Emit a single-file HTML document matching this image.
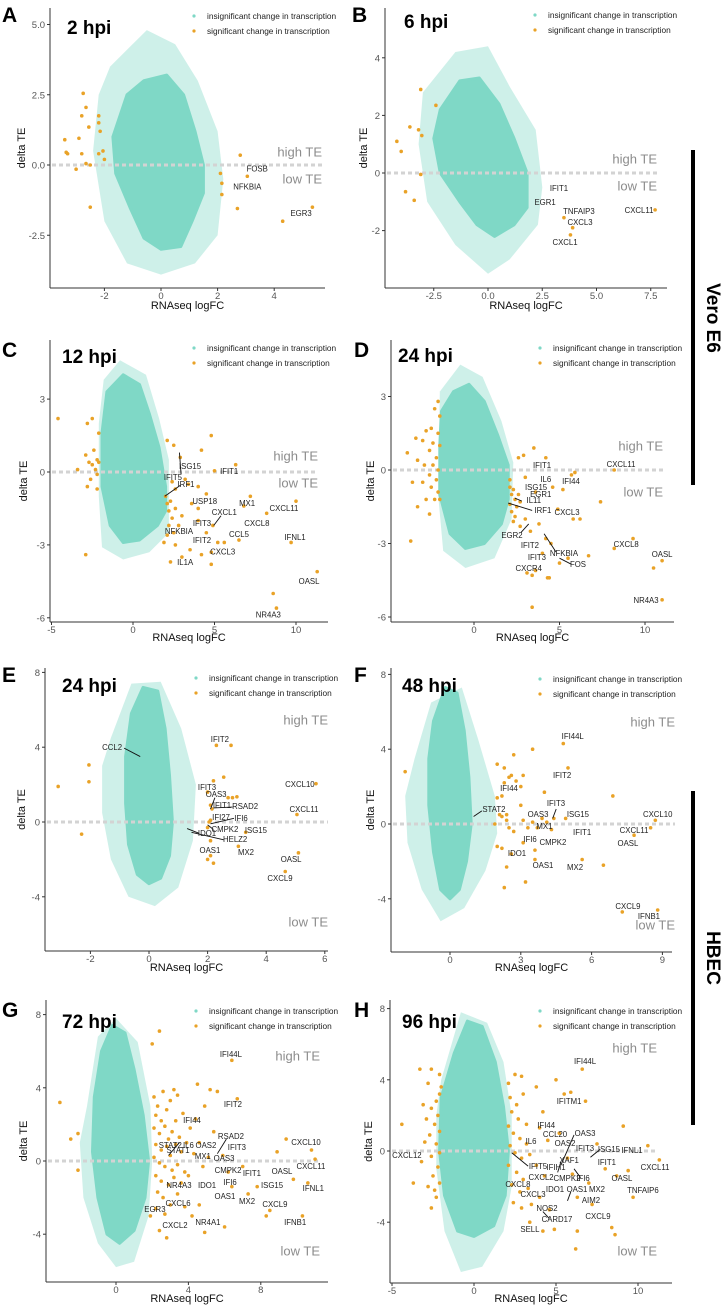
<!DOCTYPE html>
<html><head><meta charset="utf-8"><style>
html,body{margin:0;padding:0;background:#fff;}
svg{display:block;font-family:"Liberation Sans",Arial,sans-serif;}
</style></head><body>
<svg id="fig" width="724" height="1311" viewBox="0 0 724 1311" xmlns="http://www.w3.org/2000/svg">
<rect x="0" y="0" width="724" height="1311" fill="#fff"/>
<g>
<line x1="693" y1="150" x2="693" y2="485" stroke="#000" stroke-width="4"/>
<text x="712" y="318" font-size="19" font-weight="bold" text-anchor="middle" dominant-baseline="middle" transform="rotate(90 712 318)">Vero E6</text>
</g>
<g>
<line x1="693" y1="791" x2="693" y2="1125" stroke="#000" stroke-width="4"/>
<text x="712" y="958" font-size="19" font-weight="bold" text-anchor="middle" dominant-baseline="middle" transform="rotate(90 712 958)">HBEC</text>
</g>
</svg>
<script>
// ---------- data ----------
const sigA = [[-3.4,0.9],[-3.3,0.4],[-3.35,0.45],[-2.9,0.95],[-2.75,2.55],[-2.65,2.05],[-2.8,1.75],[-2.2,1.75],[-2.2,1.5],[-2.15,1.2],[-2.55,1.35],[-2.8,0.4],[-2.65,0.05],[-2.5,0],[-3.0,-0.15],[-2.2,0.4],[-2.05,0.5],[-2.5,-1.5],[-2.0,0.2],[2.8,0.35],[3.05,-0.4],[2.1,-0.3],[2.15,-0.65],[2.15,-1.05],[2.7,-1.55],[4.3,-2.0],[5.35,-1.5]];
const labA = [["FOSB",3.4,-0.15],["NFKBIA",3.05,-0.8],["EGR3",4.95,-1.75]];

const sigB = [[-4.2,1.1],[-4.0,0.75],[-3.6,1.6],[-3.2,1.5],[-3.05,1.3],[-3.1,2.9],[-2.4,2.35],[-3.1,-0.05],[-3.8,-0.65],[-3.4,-0.95],[3.5,-1.55],[3.9,-1.9],[3.8,-2.15],[7.7,-1.28]];
const labB = [["IFIT1",3.27,-0.56],["EGR1",2.63,-1.04],["TNFAIP3",4.19,-1.35],["CXCL3",4.24,-1.74],["CXCL1",3.55,-2.43],["CXCL11",6.96,-1.32]];

const sigC = [[-4.6,2.2],[-2.9,0.7],[-2.7,0.4],[-2.5,0.3],[-2.3,0.1],[-2.2,-0.1],[-2.6,-0.3],[-2.2,0.5],[-2.4,0.9],[-2.1,1.6],[-2.8,2],[-2.5,2.2],[-2.2,-0.7],[-2.1,0.4],[-3.4,0.1],[-2.9,-3.4],[-2.8,-0.6],[2.0,-1],[2.1,-1.3],[2.2,-1.6],[2.3,-1.2],[2.4,-1.9],[2.2,-2.2],[2.5,-2.5],[2.1,-2.6],[2.6,-1.5],[2.8,-2.2],[3,-1.8],[2.6,-0.7],[2.4,-0.4],[2.9,0.6],[3.2,-0.3],[3.4,-0.5],[4,-0.6],[4.2,0.9],[4.8,1.5],[2.5,1.1],[2.1,1.3],[2.6,-3],[3,-3.5],[3.5,-3.2],[4,-2],[4.2,-3.4],[4.5,-2.5],[4.8,-3.3],[4.8,-3.8],[5.2,-2.9],[5.6,-2.9],[4.9,-2.2],[5,0.05],[6.3,0.3],[6.5,-2.8],[6.8,-1.4],[7.2,-1.0],[8.2,-1.7],[10,-1.2],[9.7,-2.9],[11.3,-4.1],[8.6,-5.0],[8.8,-5.6],[2.3,-3.7],[1.9,-2.9],[3.6,-1.3],[4.0,-1.5],[4.5,-0.9]];
const labC = [["ISG15",3.5,0.2],["IFIT5",2.45,-0.25],["IRF1",3.25,-0.53],["IFIT1",5.9,0],["USP18",4.4,-1.23],["MX1",7.0,-1.32],["CXCL11",9.26,-1.52],["CXCL1",5.6,-1.69],["IFIT3",4.23,-2.14],["CXCL8",7.6,-2.14],["NFKBIA",2.82,-2.47],["CCL5",6.5,-2.6],["IFIT2",4.23,-2.84],["IFNL1",9.94,-2.72],["CXCL3",5.5,-3.3],["IL1A",3.2,-3.74],["OASL",10.8,-4.53],["NR4A3",8.3,-5.9]];
const leadC = [[2.95,-0.1,2.85,0.8],[2.9,-0.55,1.95,-1.0],[4.95,-2.2,5.4,-1.8]];

const sigD = [[-2.1,2.8],[-2.3,2.5],[-2.0,2.2],[-2.5,1.7],[-2.1,1.5],[-2.8,1.6],[-3.0,1.2],[-2.4,1.1],[-2.0,1.0],[-2.6,0.8],[-2.2,0.5],[-3.3,0.4],[-2.9,0.2],[-2.4,0.2],[-2.1,0],[-2.6,-0.2],[-2.2,-0.4],[-3.0,-0.5],[-2.5,-0.7],[-2.1,-0.9],[-2.3,-1.2],[-2.8,-1.2],[-3.4,1.3],[-3.6,-0.5],[-3.9,0.7],[-3.7,-2.9],[-3.3,-1.5],[-2.6,-1.8],[-2.0,-1.2],[2.1,-0.7],[2.3,-0.8],[2.2,-1.0],[2.4,-1.2],[2.1,-1.4],[2.5,-1.5],[2.2,-1.7],[2.4,-1.9],[2.6,-1.0],[2.7,-1.3],[2.1,-0.4],[2.6,0.5],[2.9,0.6],[3.5,0.9],[2.3,-2.1],[2.7,-2.3],[3.0,-2.0],[3.3,-2.5],[3.8,-2.2],[4.2,-2.8],[4.5,-3.0],[4.0,-3.4],[4.4,-4.4],[3.6,-4.1],[3.1,-4.2],[3.4,-4.3],[5.0,-3.8],[5.5,-3.6],[5.8,-2.0],[6.2,-2.0],[4.9,-1.6],[4.2,0.5],[5.7,-0.2],[5.9,-0.1],[3.0,-0.3],[3.6,-0.9],[4.6,-0.7],[5.2,-0.8],[6.7,-3.5],[7.4,-1.3],[8.2,0.0],[8.2,-3.2],[9.3,-2.8],[10.5,-4.0],[11,-3.7],[11,-5.3],[3.4,-5.6],[4.3,-4.4]];
const labD = [["IFIT1",3.98,0.16],["CXCL11",8.6,0.2],["IL6",4.2,-0.41],["IFI44",5.67,-0.49],["ISG15",3.63,-0.73],["EGR1",3.9,-1.02],["IL11",3.5,-1.27],["IRF1",4.03,-1.67],["CXCL3",5.44,-1.76],["EGR2",2.22,-2.69],["CXCL8",8.9,-3.06],["IFIT2",3.27,-3.1],["NFKBIA",5.26,-3.43],["OASL",11,-3.47],["IFIT3",3.68,-3.59],["FOS",6.08,-3.88],["CXCR4",3.2,-4.04],["NR4A3",10.06,-5.35]];
const leadD = [[2.4,-1.15,2.8,-1.27],[2.0,-1.35,3.4,-1.65],[2.75,-2.55,3.2,-2.2],[4.1,-2.6,4.8,-3.35],[5.0,-3.6,5.7,-3.85]];

const sigE = [[-3.1,1.9],[-2.05,3.05],[-2.05,2.15],[-2.3,-0.65],[2.3,4.1],[2.8,4.1],[2.2,2.2],[2.55,2.4],[2.0,1.6],[2.1,0.9],[2.15,0.7],[2.7,1.3],[2.85,1.3],[3.0,1.35],[2.1,0.1],[2.0,-0.3],[2.1,-1.0],[3.05,-1.3],[3.3,-0.55],[2.1,-1.8],[2.2,-2.2],[2.0,-2.0],[5.05,0.4],[5.7,2.05],[5.1,-1.65],[4.65,-2.65],[2.05,0.0]];
const labE = [["IFIT2",2.42,4.39],["CCL2",-1.26,3.96],["CXCL10",5.15,1.98],["IFIT3",1.98,1.82],["OAS3",2.29,1.44],["IFIT1",2.49,0.86],["RSAD2",3.28,0.8],["CXCL11",5.29,0.64],["IFI27",2.46,0.21],["IFI6",3.14,0.16],["CMPK2",2.59,-0.43],["ISG15",3.65,-0.48],["IDO1",1.98,-0.64],["HELZ2",2.94,-0.96],["OAS1",2.08,-1.55],["MX2",3.31,-1.66],["OASL",4.85,-2.03],["CXCL9",4.47,-3.05]];
const leadE = [[-0.85,3.95,-0.3,3.5],[2.2,0.75,2.85,0.8],[2.1,-0.1,2.9,0.2],[2.0,-0.15,2.2,-0.4],[1.3,-0.35,1.7,-0.6],[1.45,-0.55,2.55,-0.95],[2.1,0.7,2.25,1.3]];

const sigF = [[-1.9,2.8],[2.0,1.4],[2.2,1.5],[2.3,2.2],[2.5,2.5],[2.6,2.6],[2.8,2.3],[3.0,2.0],[3.1,2.6],[2.3,3.0],[2.7,3.7],[2.0,3.2],[3.5,4.0],[2.1,0.5],[2.2,0.4],[2.4,0.2],[2.5,-0.2],[2.7,-0.4],[3.0,1.0],[3.1,0.2],[3.3,-0.2],[3.5,0.1],[3.7,-0.2],[3.9,0.3],[4.1,0.1],[4.3,-0.3],[2.2,-1.3],[2.6,-1.6],[2.4,-2.3],[3.1,-1.0],[3.6,-1.4],[3.6,-1.9],[2.3,-3.4],[3.2,-3.1],[4.0,1.7],[4.4,0.3],[4.9,0.3],[5.0,3.0],[4.8,4.3],[5.6,-1.9],[6.5,-2.2],[6.9,1.5],[7.8,-0.6],[8.5,-0.2],[8.7,0.2],[7.3,-4.7],[8.8,-4.6],[2.0,-1.2],[2.4,0.5],[1.9,0.0]];
const labF = [["IFI44L",5.2,4.65],["IFIT2",4.75,2.57],["IFI44",2.5,1.87],["IFIT3",4.49,1.07],["STAT2",1.86,0.75],["OAS3",3.73,0.48],["ISG15",5.42,0.48],["CXCL10",8.8,0.48],["MX1",4.0,-0.16],["CXCL11",7.8,-0.37],["IFIT1",5.6,-0.48],["IFI6",3.39,-0.86],["CMPK2",4.36,-1.02],["OASL",7.54,-1.07],["IDO1",2.84,-1.6],["OAS1",3.94,-2.25],["MX2",5.3,-2.35],["CXCL9",7.54,-4.44],["IFNB1",8.43,-4.97]];
const leadF = [[1.0,0.4,1.35,0.7],[4.35,0.3,4.5,0.8]];

const sigG = [[-3.1,3.2],[-2.5,1.2],[-2.1,1.5],[-2.1,-0.5],[2.1,3.5],[2.3,3.0],[2.6,3.8],[2.2,2.5],[2.5,2.2],[2.8,2.8],[3.0,3.3],[3.2,3.9],[3.4,3.6],[2.1,1.8],[2.4,1.5],[2.7,1.9],[2.9,1.2],[3.1,1.6],[3.3,2.2],[3.5,1.3],[3.7,2.6],[2.2,0.9],[2.5,0.6],[2.8,0.8],[3.0,0.3],[3.3,0.9],[3.6,0.5],[3.9,1.0],[2.1,0.2],[2.4,-0.1],[2.7,-0.3],[3.1,-0.5],[3.4,-0.2],[3.8,-0.6],[2.2,-0.8],[2.5,-1.1],[2.9,-1.3],[3.2,-0.9],[3.6,-1.2],[4.0,-0.8],[2.3,-1.7],[2.6,-2.0],[3.0,-2.4],[3.4,-1.8],[3.8,-2.5],[2.2,-2.6],[2.7,-2.9],[2.4,-3.8],[2.8,-4.2],[4.2,-3.0],[4.6,-2.4],[4.9,-3.9],[4.1,1.8],[4.4,2.3],[4.6,1.0],[4.3,0.4],[4.8,-0.3],[5.1,0.2],[4.5,4.2],[5.2,3.9],[5.6,3.8],[4.9,3.0],[5.4,1.6],[5.9,0.3],[6.2,-0.6],[6.4,-1.4],[6.0,-3.6],[6.7,3.4],[7.0,-0.3],[7.3,-1.8],[7.8,-1.4],[8.3,-3.0],[8.5,-2.7],[8.9,0.5],[9.4,1.2],[9.8,-1.0],[10.3,-3.0],[10.8,0.6],[11.0,0.1],[10.6,-1.2],[6.4,5.5],[2.4,7.1],[2.0,6.4],[1.9,-3]];
const labG = [["IFI44L",6.35,5.8],["IFIT2",6.46,3.06],["IFI44",4.2,2.19],["RSAD2",6.35,1.31],["CXCL10",10.5,0.98],["STAT2",3.0,0.82],["IL6",4.0,0.82],["OAS2",4.97,0.82],["IFIT3",6.68,0.71],["STAT1",3.43,0.55],["MX1",4.8,0.22],["OAS3",5.97,0.11],["CXCL11",10.77,-0.33],["CMPK2",6.19,-0.55],["IFIT1",7.51,-0.71],["OASL",9.17,-0.6],["NR4A3",3.48,-1.37],["IDO1",5.03,-1.37],["IFI6",6.3,-1.2],["ISG15",8.62,-1.37],["IFNL1",10.9,-1.53],["OAS1",6.02,-1.97],["MX2",7.24,-2.24],["CXCL6",3.43,-2.35],["CXCL9",8.78,-2.4],["EGR3",2.15,-2.68],["NR4A1",5.08,-3.39],["CXCL2",3.26,-3.55],["IFNB1",9.9,-3.39]];
const leadG = [[2.9,0.3,3.5,1.0],[5.6,0.4,6.1,1.2]];

const sigH = [[-2.1,4.3],[-2.6,4.6],[-3.3,4.6],[-2.8,3.8],[-2.1,3.2],[-2.3,2.8],[-2.6,2.4],[-2.2,2.0],[-2.9,1.8],[-2.4,1.5],[-2.1,1.1],[-2.7,0.9],[-3.0,0.5],[-2.3,0.4],[-2.1,-0.1],[-2.6,-0.3],[-3.2,-0.6],[-2.2,-0.9],[-2.5,-1.4],[-2.1,-1.8],[-2.8,-2.0],[-2.3,-2.6],[-2.6,-3.2],[-4.4,1.5],[-3.7,-1.8],[-3.1,2.6],[-2.4,-2.2],[-2.0,3.6],[2.1,3.8],[2.5,4.3],[2.9,4.2],[2.2,3.0],[2.6,2.6],[3.0,3.2],[2.3,2.2],[2.7,1.8],[3.2,1.5],[2.1,1.4],[2.4,1.0],[2.8,0.7],[3.2,0.4],[2.2,0.3],[2.5,-0.1],[2.9,-0.4],[3.4,-0.2],[2.1,-0.8],[2.6,-1.2],[3.0,-1.6],[2.3,-1.9],[2.8,-2.3],[3.3,-2.1],[2.4,-2.9],[2.9,-3.2],[3.5,-3.0],[3.8,3.6],[4.2,2.2],[4.0,1.3],[4.5,0.6],[3.8,-0.8],[4.3,-1.4],[4.0,-2.6],[4.6,-3.3],[4.9,-4.4],[4.2,-4.5],[5.0,4.0],[5.5,3.2],[5.9,3.3],[5.2,1.0],[5.7,-0.4],[6.0,-1.3],[6.3,-2.6],[6.3,-4.5],[6.2,-5.5],[6.8,2.8],[6.6,4.6],[7.0,-1.8],[7.2,-3.0],[7.5,0.4],[8.0,-1.0],[8.7,-1.4],[9.1,1.4],[9.4,-1.1],[10.6,0.3],[11.3,-0.5],[9.7,-2.6],[8.4,-4.3],[8.6,-4.7],[3.4,-4.0]];
const labH = [["IFI44L",6.77,5.0],["IFITM1",5.8,2.75],["IFI44",4.4,1.4],["CCL20",4.94,0.9],["OAS3",6.77,0.96],["OAS2",5.55,0.39],["IL6",3.48,0.5],["IFIT3",6.77,0.11],["ISG15",8.23,0.06],["IFNL1",9.63,0],["CXCL12",-4.09,-0.28],["XAF1",5.8,-0.56],["IFIT1",8.1,-0.67],["IFIT5",3.9,-0.9],["IFIH1",5.0,-0.96],["CXCL11",11.04,-0.96],["CXCL2",4.09,-1.52],["CMPK2",5.67,-1.57],["IFI6",6.65,-1.57],["OASL",9.02,-1.57],["CXCL8",2.68,-1.91],["IDO1",4.94,-2.19],["OAS1",6.28,-2.19],["MX2",7.5,-2.19],["TNFAIP6",10.3,-2.25],["CXCL3",3.6,-2.47],["AIM2",7.13,-2.81],["NOS2",4.45,-3.26],["CXCL9",7.56,-3.71],["CARD17",5.06,-3.88],["SELL",3.41,-4.44]];
const leadH = [[2.3,-0.1,3.3,-0.85],[5.3,-0.8,6.1,0.9],[7.1,-0.35,7.7,0.1],[6.1,-1.0,6.5,-1.5],[5.1,-1.2,5.3,-0.6],[5.7,-2.8,5.9,-2.3],[4.2,-3.4,4.6,-3.8]];

const xTicksA=[-2,0,2,4], yTicksA=[-2.5,0,2.5,5];
const xTicksB=[-2.5,0,2.5,5,7.5], yTicksB=[-2,0,2,4];
const xTicksC=[-5,0,5,10], yTicksC=[-6,-3,0,3];
const xTicksD=[0,5,10], yTicksD=[-6,-3,0,3];
const xTicksE=[-2,0,2,4,6], yTicksE=[-4,0,4,8];
const xTicksF=[0,3,6,9], yTicksF=[-4,0,4,8];
const xTicksG=[0,4,8], yTicksG=[-4,0,4,8];
const xTicksH=[-5,0,5,10], yTicksH=[-4,0,4,8];

// ---------- rendering ----------
const NS="http://www.w3.org/2000/svg";
const svg=document.getElementById('fig');
function mk(tag,attrs,parent){const e=document.createElementNS(NS,tag);for(const k in attrs)e.setAttribute(k,attrs[k]);(parent||svg).appendChild(e);return e;}
const TEAL="#7fd8c6", ORANGE="#e9a227";

function panel(c, sig, lab, lead, xt, yt){
  const g=mk('g',{});
  
  
  const X=v=>c.x0+c.xu*v, Y=v=>c.y0-c.yu*v;
  const poly=(pts)=>pts.map(p=>X(p[0]).toFixed(1)+','+Y(p[1]).toFixed(1)).join(' ');
  const halo=mk('polygon',{points:poly(c.halo),fill:TEAL,opacity:0.38},g);
  
  
  const core=mk('polygon',{points:poly(c.core),fill:TEAL,stroke:TEAL,'stroke-width':3,'stroke-linejoin':'round'},g);
  
  
  const zl=mk('line',{x1:c.left+2,x2:c.teX,y1:Y(0),y2:Y(0),stroke:'#d3d3d3','stroke-width':3,'stroke-dasharray':'4,3'},g);
  
  
  sig.forEach(p=>{
    const d=mk('circle',{cx:X(p[0]),cy:Y(p[1]),r:1.8,fill:ORANGE},g);
    
    
  });
  (lead||[]).forEach(l=>{
    const ln=mk('line',{x1:X(l[0]),y1:Y(l[1]),x2:X(l[2]),y2:Y(l[3]),stroke:'#111','stroke-width':0.9},g);
    
    
  });
  lab.forEach(l=>{
    const t=mk('text',{x:X(l[1]),y:Y(l[2]),'font-size':7.8,fill:'#222','text-anchor':'middle','dominant-baseline':'middle'},g);
    t.textContent=l[0];
    
    
  });
  const ya=mk('line',{x1:c.left,x2:c.left,y1:c.top,y2:c.bottom,stroke:'#333','stroke-width':1},g);
  
  
  const xa=mk('line',{x1:c.left,x2:c.right,y1:c.bottom,y2:c.bottom,stroke:'#333','stroke-width':1},g);
  
  
  xt.forEach(v=>{
    mk('line',{x1:X(v),x2:X(v),y1:c.bottom,y2:c.bottom+3,stroke:'#333'},g);
    const t=mk('text',{x:X(v),y:c.bottom+11,'font-size':9.5,fill:'#555','text-anchor':'middle'},g);
    t.textContent=c.xfmt?v.toFixed(1):String(v);
    
    
  });
  yt.forEach(v=>{
    mk('line',{x1:c.left-3,x2:c.left,y1:Y(v),y2:Y(v),stroke:'#333'},g);
    const t=mk('text',{x:c.left-5,y:Y(v)+3.5,'font-size':9.5,fill:'#555','text-anchor':'end'},g);
    t.textContent=c.yfmt?v.toFixed(1):String(v);
    
    
  });
  const cy=(c.top+c.bottom)/2;
  const yt2=mk('text',{x:c.ytx,y:cy,'font-size':11,fill:'#111','text-anchor':'middle',transform:`rotate(-90 ${c.ytx} ${cy})`},g);
  yt2.textContent='delta TE';
  
  
  const xt2=mk('text',{x:(c.left+c.right)/2,y:c.xty,'font-size':11,fill:'#111','text-anchor':'middle'},g);
  xt2.textContent='RNAseq logFC';
  
  
  const hi=mk('text',{x:c.teX,y:c.hiY,'font-size':13,fill:'#8c8c8c','text-anchor':'end','dominant-baseline':'middle'},g);
  hi.textContent='high TE';
  
  
  const lo=mk('text',{x:c.teX,y:c.loY,'font-size':13,fill:'#8c8c8c','text-anchor':'end','dominant-baseline':'middle'},g);
  lo.textContent='low TE';
  
  
  const lg=mk('g',{},g);
  
  
  [[TEAL,'insignificant change in transcription'],[ORANGE,'significant change in transcription']].forEach((e,i)=>{
    mk('circle',{cx:c.lgx,cy:c.lgy+i*15,r:1.6,fill:e[0]},lg);
    const t=mk('text',{x:c.lgx+13,y:c.lgy+i*15+3,'font-size':8.3,fill:'#222'},lg);
    t.textContent=e[1];
    
    
  });
  const ti=mk('text',{x:c.tx,y:c.ty,'font-size':19,'font-weight':'bold',fill:'#000'},g);
  ti.textContent=c.title;
  
  
  const le=mk('text',{x:c.lx,y:c.ly,'font-size':21,'font-weight':'bold',fill:'#000'},g);
  le.textContent=c.letter;
  
  
}

panel({letter:'A',title:'2 hpi',x0:161,xu:28.3,y0:165,yu:28.1,left:50,top:8,bottom:288,right:325,ytx:25,xty:309,teX:322,hiY:153,loY:180,lgx:194,lgy:16,tx:67,ty:34,lx:2,ly:22,yfmt:true,
  core:[[-1.2,2.5],[-0.6,3.0],[0.2,3.2],[0.8,2.5],[1.2,1.2],[1.5,0],[1.5,-1],[1.1,-2],[0.7,-2.9],[0,-3.0],[-0.6,-2.6],[-1.1,-1.5],[-1.6,-0.3],[-1.7,1.0]],
  halo:[[-1.8,3.5],[-0.5,4.8],[0.5,4.3],[1.3,3],[2.0,1.2],[2.2,-0.5],[2.0,-2.5],[1.2,-3.5],[0,-3.9],[-1.2,-3.5],[-2.0,-2.0],[-2.4,0.5],[-2.2,2.5]]},
  sigA,labA,[],xTicksA,yTicksA);

panel({letter:'B',title:'6 hpi',x0:488,xu:21.7,y0:173,yu:28.8,left:385,top:8,bottom:288,right:667,ytx:367,xty:309,teX:657,hiY:160,loY:187,lgx:535,lgy:15,tx:404,ty:28,lx:352,ly:22,xfmt:true,
  core:[[-2.2,2.2],[-1.3,3.2],[-0.4,3.3],[0.5,2.4],[1.2,1.2],[1.8,0],[1.8,-1.2],[1.2,-1.8],[0.3,-2.2],[-0.5,-1.8],[-1.3,-1],[-2.2,0],[-2.5,1.2]],
  halo:[[-3,2.8],[-1.5,4.2],[0,4.4],[1,3],[2.2,1.5],[2.5,-0.5],[2.3,-1.8],[1,-3],[0,-3.5],[-1.5,-2.5],[-2.8,-1],[-3.2,1]]},
  sigB,labB,[],xTicksB,yTicksB);

panel({letter:'C',title:'12 hpi',x0:133,xu:16.3,y0:472,yu:24.3,left:50,top:340,bottom:622,right:328,ytx:27,xty:641,teX:318,hiY:457,loY:484,lgx:194,lgy:348,tx:62,ty:363,lx:2,ly:357,
  core:[[-1.6,3.3],[-0.6,4.0],[0.4,3.6],[1.0,2.4],[1.6,1.0],[2.0,-0.6],[2.0,-1.6],[1.5,-2.2],[0.4,-2.8],[-0.6,-2.9],[-1.4,-2.2],[-1.9,-0.6],[-1.9,1.6]],
  halo:[[-1.8,3.8],[-0.8,4.6],[0.8,4.0],[1.6,2.2],[2.2,0.5],[2.2,-2.5],[1,-3.3],[-0.6,-3.6],[-1.9,-3.1],[-2.1,-1],[-2.1,2]]},
  sigC,labC,leadC,xTicksC,yTicksC);

panel({letter:'D',title:'24 hpi',x0:474,xu:17.1,y0:470,yu:24.5,left:391,top:340,bottom:622,right:674,ytx:374,xty:641,teX:663,hiY:447,loY:493,lgx:540,lgy:348,tx:398,ty:362,lx:354,ly:357,
  core:[[-1.9,2.4],[-1.2,3.2],[-0.3,3.5],[0.6,2.8],[1.4,1.4],[2.0,0.2],[2.0,-1.2],[1.6,-2.2],[0.6,-3.0],[-0.5,-3.2],[-1.4,-2.6],[-2.0,-1.0],[-2.0,1.0]],
  halo:[[-2,3.2],[-0.8,4.3],[0.5,3.8],[1.6,2.0],[2.3,0.3],[2.2,-2],[1.2,-3.6],[-0.5,-4.0],[-1.8,-3.3],[-2.1,-1]]},
  sigD,labD,leadD,xTicksD,yTicksD);

panel({letter:'E',title:'24 hpi',x0:149,xu:29.3,y0:822,yu:18.7,left:45,top:668,bottom:951,right:328,ytx:25,xty:971,teX:328,hiY:721,loY:923,lgx:196,lgy:678,tx:62,ty:692,lx:2,ly:682,
  core:[[-0.6,5.8],[-0.2,7.2],[0.3,7.0],[0.55,5.0],[0.7,2.5],[0.8,0],[0.7,-1.8],[0.4,-3.0],[0,-3.3],[-0.4,-2.8],[-0.7,-1.2],[-0.8,1.0],[-0.8,3.5]],
  halo:[[-1.3,4.5],[-0.6,7.4],[0.4,7.5],[1.1,5],[1.6,2],[1.5,-1],[1.0,-3.5],[0.2,-4.5],[-0.7,-4],[-1.3,-2],[-1.6,0.5],[-1.6,3]]},
  sigE,labE,leadE,xTicksE,yTicksE);

panel({letter:'F',title:'48 hpi',x0:450,xu:23.6,y0:824,yu:18.7,left:391,top:668,bottom:952,right:672,ytx:374,xty:971,teX:675,hiY:723,loY:926,lgx:540,lgy:679,tx:402,ty:692,lx:354,ly:682,
  core:[[-0.7,5.5],[-0.2,7.3],[0.3,7.0],[0.6,5.0],[0.8,2.5],[0.9,0],[0.7,-2],[0.4,-3.5],[0,-4],[-0.4,-3.5],[-0.7,-1.5],[-0.9,1],[-0.9,3.5]],
  halo:[[-1.5,3.5],[-0.8,6.5],[0.5,7.3],[1.2,4.5],[1.9,1.5],[2,-0.5],[1.5,-2.5],[0.6,-4.5],[-0.4,-5.2],[-1.2,-3.5],[-1.8,-1],[-1.9,1.5]]},
  sigF,labF,leadF,xTicksF,yTicksF);

panel({letter:'G',title:'72 hpi',x0:116,xu:18.1,y0:1161,yu:18.3,left:46,top:1000,bottom:1282,right:328,ytx:27,xty:1302,teX:320,hiY:1057,loY:1252,lgx:196,lgy:1011,tx:62,ty:1028,lx:2,ly:1017,
  core:[[-0.8,6],[-0.2,7.4],[0.5,7.0],[1.0,5.0],[1.5,2.5],[1.8,0],[1.6,-2],[1.0,-3.8],[0.2,-4.5],[-0.5,-4],[-1.0,-2],[-1.3,0.5],[-1.2,3.5]],
  halo:[[-1.6,3],[-1.0,6.8],[0,7.8],[1.2,6.5],[1.9,3],[2.0,0],[1.8,-3],[1.0,-5.5],[0,-5.8],[-1.0,-4.5],[-1.8,-2],[-2.0,1]]},
  sigG,labG,leadG,xTicksG,yTicksG);

panel({letter:'H',title:'96 hpi',x0:474,xu:16.4,y0:1151,yu:17.8,left:390,top:1000,bottom:1283,right:672,ytx:372,xty:1302,teX:657,hiY:1049,loY:1252,lgx:540,lgy:1011,tx:402,ty:1028,lx:354,ly:1017,
  core:[[-1.2,5.5],[-0.4,7.3],[0.5,7.0],[1.3,5],[1.8,2.5],[2.1,0],[1.9,-2.5],[1.2,-4.2],[0,-4.8],[-1.0,-4.5],[-1.8,-2.5],[-2.1,0],[-2.0,3]],
  halo:[[-2,4],[-0.8,7.8],[0.8,7.2],[1.8,5],[2.3,2],[2.3,-2],[1.8,-4.5],[0.5,-6.5],[-0.8,-6.8],[-1.8,-4.5],[-2.3,-1],[-2.3,2]]},
  sigH,labH,leadH,xTicksH,yTicksH);
</script>
</body></html>
